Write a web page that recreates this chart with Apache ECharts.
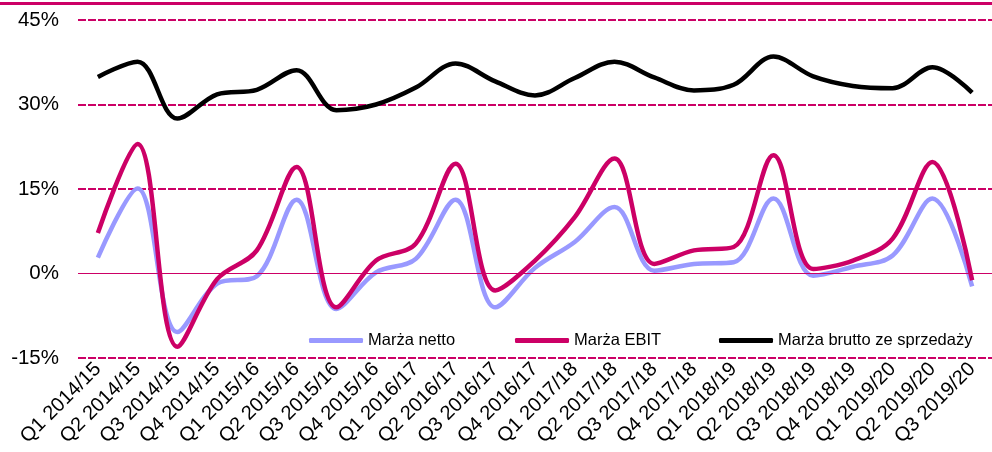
<!DOCTYPE html>
<html>
<head>
<meta charset="utf-8">
<script src="https://cdn.jsdelivr.net/npm/echarts@6/dist/echarts.min.js"></script>
<style>html,body{margin:0;padding:0;background:#fff}#c{width:992px;height:452px}</style>
</head>
<body>
<div id="c"></div>
<script>
const categories = ["Q1 2014/15","Q2 2014/15","Q3 2014/15","Q4 2014/15","Q1 2015/16","Q2 2015/16","Q3 2015/16","Q4 2015/16","Q1 2016/17","Q2 2016/17","Q3 2016/17","Q4 2016/17","Q1 2017/18","Q2 2017/18","Q3 2017/18","Q4 2017/18","Q1 2018/19","Q2 2018/19","Q3 2018/19","Q4 2018/19","Q1 2019/20","Q2 2019/20","Q3 2019/20"];
const marzaNetto = [2.8,15.1,-10.4,-1.8,-0.5,13.1,-6.3,0.2,2.6,13.1,-6.0,1.0,5.6,11.8,0.5,1.7,2.0,13.3,-0.4,1.2,3.2,13.3,-2.3];
const marzaEBIT = [7.2,23.0,-13.0,-1.0,4.1,18.9,-6.0,2.3,5.3,19.5,-3.0,2.3,10.0,20.4,1.7,4.1,4.7,21.0,0.8,2.3,6.2,19.8,-1.2];
const marzaBrutto = [34.9,37.6,27.5,31.8,32.6,36.1,29.0,30.0,33.0,37.3,34.1,31.6,34.7,37.6,34.8,32.5,33.5,38.5,35.0,33.3,32.9,36.6,32.1];
const yTicks = {min:-15, max:45, interval:15};
const names = ["Marża netto","Marża EBIT","Marża brutto ze sprzedaży"];
const colors = ["#9999FF","#CC0066","#000000"];

const chart = echarts.init(document.getElementById('c'));
const FONT = 'Liberation Sans, Arial, sans-serif';
const PINK = '#CC0066';
function leg(name, left){
  return {data:[name], left:left, top:332, padding:0, itemWidth:54, itemHeight:5, icon:'roundRect',
    itemGap:0, textStyle:{fontFamily:FONT, fontSize:16.5, color:'#000', padding:[0,0,0,0]}, selectedMode:false};
}
chart.setOption({
  animation:false,
  grid:{left:78, top:20, width:929, height:338, containLabel:false},
  graphic:[{type:'line', shape:{x1:0,y1:3.5,x2:992,y2:3.5}, style:{stroke:PINK, lineWidth:3}}],
  legend:[leg(names[0],309), leg(names[1],515), leg(names[2],719)],
  xAxis:{type:'category', data:categories, boundaryGap:true,
    axisLine:{show:false}, axisTick:{show:false}, splitLine:{show:false},
    axisLabel:{interval:0, rotate:45, margin:8, fontFamily:FONT, fontSize:20, color:'#000'}},
  yAxis:{type:'value', min:yTicks.min, max:yTicks.max, interval:yTicks.interval,
    axisLine:{show:false}, axisTick:{show:false},
    axisLabel:{formatter:'{value}%', margin:19, fontFamily:FONT, fontSize:20.5, color:'#000'},
    splitLine:{show:true, lineStyle:{color:[PINK,'rgba(0,0,0,0)',PINK,PINK,PINK], width:2, type:[8,2]}}},
  series:[
    {name:names[0], type:'line', data:marzaNetto, smooth:0.35, symbol:'none', z:2,
      lineStyle:{color:colors[0], width:4.5}, itemStyle:{color:colors[0]},
      markLine:{silent:true, symbol:'none', label:{show:false}, data:[{yAxis:0}],
        lineStyle:{color:PINK, width:1, type:'solid'}}},
    {name:names[1], type:'line', data:marzaEBIT, smooth:0.35, symbol:'none', z:3,
      lineStyle:{color:colors[1], width:4.5}, itemStyle:{color:colors[1]}},
    {name:names[2], type:'line', data:marzaBrutto, smooth:0.35, symbol:'none', z:4,
      lineStyle:{color:colors[2], width:4.5}, itemStyle:{color:colors[2]}}
  ]
});
</script>
</body>
</html>
